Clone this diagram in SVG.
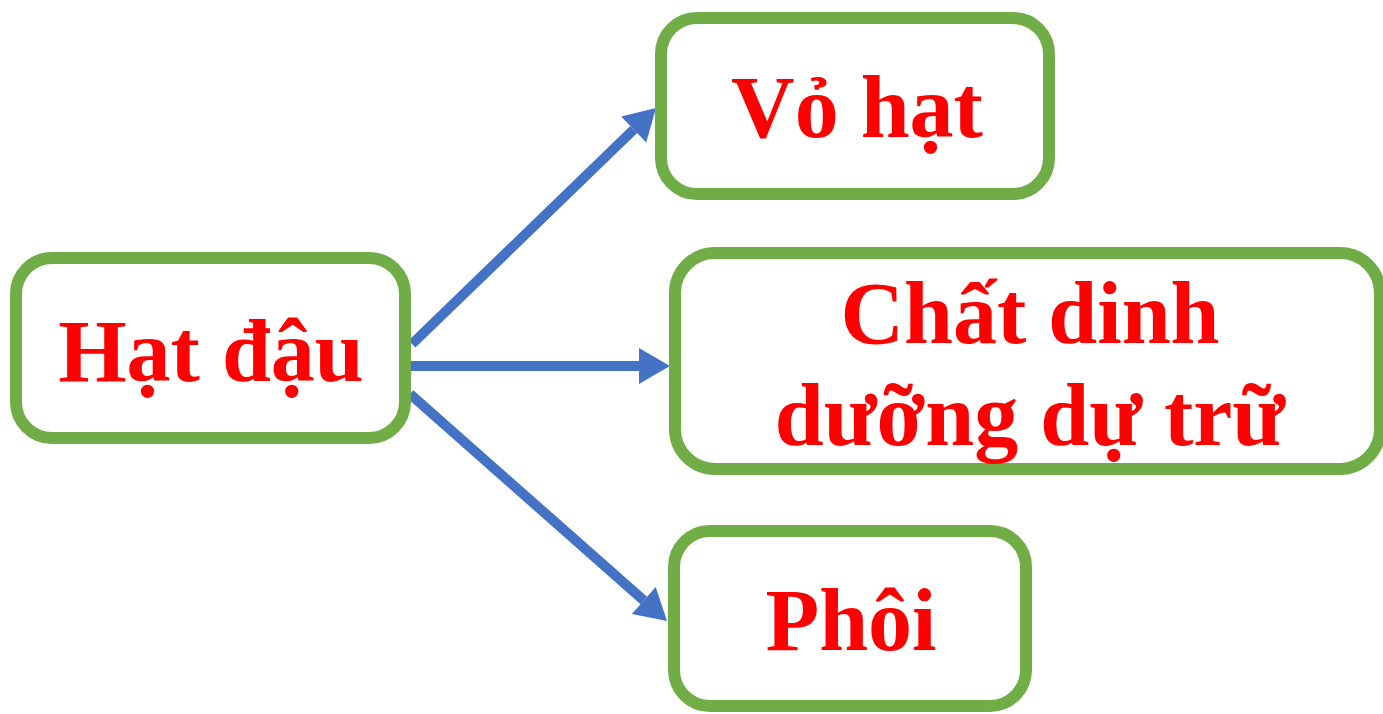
<svg xmlns="http://www.w3.org/2000/svg" width="1383" height="714" viewBox="0 0 1383 714">
<style>
.box{fill:#fff;stroke:#70AD47;stroke-width:12}
.lbl{font-family:"Liberation Serif","DejaVu Serif",serif;font-weight:bold;font-size:88px;fill:#FF0000;text-anchor:middle}
.conn{stroke:#4472C4;stroke-width:10;fill:none;marker-end:url(#ah)}
</style>
<defs>
<marker id="ah" markerUnits="userSpaceOnUse" markerWidth="32" markerHeight="36" refX="0" refY="18" orient="auto" overflow="visible">
<path d="M0,0 L31,18 L0,36 Z" fill="#4472C4"/>
</marker>
</defs>
<rect width="1383" height="714" fill="#fff"/>
<g id="connectors">
<line class="conn" x1="412" y1="344" x2="633.7" y2="129.5"/>
<line class="conn" x1="408" y1="366" x2="639" y2="366"/>
<line class="conn" x1="410" y1="394" x2="643.8" y2="600.5"/>
</g>
<g id="node-hat-dau">
<rect class="box" x="16" y="258" width="389" height="180" rx="36"/>
<text class="lbl" x="211" y="381">Hạt đậu</text>
</g>
<g id="node-vo-hat">
<rect class="box" x="661" y="18" width="388" height="176" rx="36"/>
<text class="lbl" x="857" y="137">Vỏ hạt</text>
</g>
<g id="node-chat-dinh-duong">
<rect class="box" x="675" y="253" width="705" height="216" rx="40"/>
<text class="lbl" x="1030" y="343">Chất dinh</text>
<text class="lbl" x="1030" y="445">dưỡng dự trữ</text>
</g>
<g id="node-phoi">
<rect class="box" x="674" y="531" width="352" height="175" rx="36"/>
<text class="lbl" x="851" y="650">Phôi</text>
</g>
</svg>
